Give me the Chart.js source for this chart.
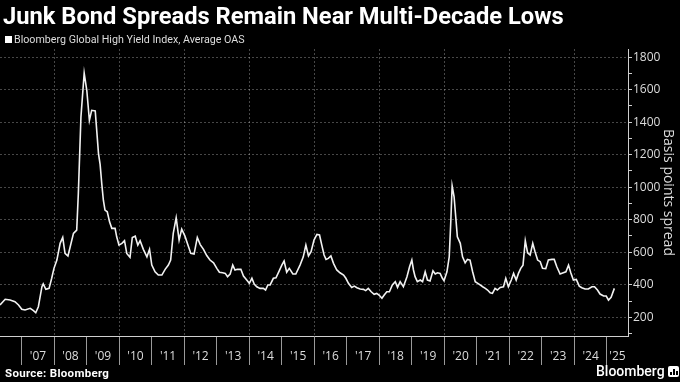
<!DOCTYPE html>
<html>
<head>
<meta charset="utf-8">
<script src="https://cdn.jsdelivr.net/npm/chart.js@4.4.1/dist/chart.umd.min.js"></script>
<style>
  html, body { margin: 0; padding: 0; background: #000; }
  #wrap { position: relative; width: 680px; height: 382px; overflow: hidden; font-family: 'Roboto', sans-serif; color: #fff; }
  #chart { position: absolute; left: 0; top: 0; }
  .title { position: absolute; left: 3px; top: 2px; font-size: 23.7px; font-weight: 700; white-space: nowrap; }
  .legend { position: absolute; left: 5px; top: 33px; font-size: 10.7px; color: #ddd; white-space: nowrap; }
  .legend .sw { display: inline-block; width: 7px; height: 7px; background: #fff; margin-right: 2px; vertical-align: 0px; }
  .source { position: absolute; left: 5px; top: 366px; font-size: 11.5px; font-weight: 700; white-space: nowrap; letter-spacing: 0.3px; }
  .logo { position: absolute; left: 596px; top: 363px; font-size: 14px; font-weight: 500; white-space: nowrap; }
  .logo .icon { display: inline-block; position: relative; width: 11px; height: 11px; background: #fff; border-radius: 2px; margin-left: 3px; vertical-align: -1px; }
  .logo .icon i { position: absolute; bottom: 2px; width: 2px; background: #000; }
</style>
</head>
<body>
<div id="wrap">
  <canvas id="chart" width="680" height="382"></canvas>
  <div class="title">Junk Bond Spreads Remain Near Multi-Decade Lows</div>
  <div class="legend"><span class="sw"></span>Bloomberg Global High Yield Index, Average OAS</div>
  <div class="source">Source: Bloomberg</div>
  <div class="logo">Bloomberg<span class="icon"><i style="left:2px;height:3px"></i><i style="left:5px;height:6px"></i><i style="left:8px;height:4px"></i></span></div>
</div>
<script>
// dates as decimal years, values in basis points
const years = [
  2006.33, 2006.49, 2006.64, 2006.79, 2006.90, 2007.00, 2007.10, 2007.26, 2007.36, 2007.43,
  2007.51, 2007.62, 2007.66, 2007.74, 2007.84, 2007.92, 2007.99, 2008.08, 2008.18, 2008.26,
  2008.33, 2008.42, 2008.49, 2008.59, 2008.69, 2008.74, 2008.82, 2008.92, 2009.00, 2009.08,
  2009.15, 2009.26, 2009.36, 2009.41, 2009.46, 2009.51, 2009.56, 2009.63, 2009.70, 2009.77,
  2009.87, 2009.92, 2009.99, 2010.08, 2010.16, 2010.23, 2010.33, 2010.40, 2010.49, 2010.57,
  2010.64, 2010.74, 2010.85, 2010.93, 2011.00, 2011.10, 2011.20, 2011.31, 2011.41, 2011.51,
  2011.58, 2011.66, 2011.75, 2011.84, 2011.92, 2012.02, 2012.13, 2012.20, 2012.30, 2012.40,
  2012.49, 2012.59, 2012.69, 2012.79, 2012.90, 2013.00, 2013.08, 2013.18, 2013.26, 2013.33,
  2013.41, 2013.49, 2013.56, 2013.63, 2013.74, 2013.82, 2013.92, 2014.00, 2014.08, 2014.15,
  2014.23, 2014.33, 2014.43, 2014.50, 2014.57, 2014.64, 2014.74, 2014.82, 2014.92, 2015.00,
  2015.07, 2015.15, 2015.23, 2015.34, 2015.43, 2015.56, 2015.66, 2015.74, 2015.82, 2015.90,
  2015.99, 2016.08, 2016.16, 2016.23, 2016.30, 2016.36, 2016.43, 2016.51, 2016.59, 2016.69,
  2016.79, 2016.90, 2016.97, 2017.05, 2017.15, 2017.23, 2017.31, 2017.41, 2017.51, 2017.58,
  2017.66, 2017.75, 2017.84, 2017.92, 2017.99, 2018.08, 2018.15, 2018.23, 2018.31, 2018.40,
  2018.49, 2018.56, 2018.64, 2018.74, 2018.85, 2018.93, 2019.00, 2019.05, 2019.10, 2019.17,
  2019.26, 2019.33, 2019.41, 2019.48, 2019.56, 2019.65, 2019.72, 2019.79, 2019.87, 2019.94,
  2019.99, 2020.08, 2020.15, 2020.20, 2020.24, 2020.30, 2020.35, 2020.40, 2020.49, 2020.56,
  2020.64, 2020.71, 2020.79, 2020.87, 2020.95, 2021.03, 2021.10, 2021.18, 2021.26, 2021.33,
  2021.41, 2021.48, 2021.56, 2021.63, 2021.72, 2021.82, 2021.89, 2021.97, 2022.06, 2022.13,
  2022.21, 2022.28, 2022.35, 2022.42, 2022.49, 2022.56, 2022.64, 2022.72, 2022.79, 2022.87,
  2022.95, 2023.02, 2023.12, 2023.20, 2023.31, 2023.38, 2023.46, 2023.56, 2023.66, 2023.74,
  2023.82, 2023.89, 2023.97, 2024.06, 2024.15, 2024.23, 2024.33, 2024.43, 2024.54, 2024.62,
  2024.71, 2024.79, 2024.90, 2024.98, 2025.05, 2025.13, 2025.23
];
const oas = [
  276, 311, 306, 296, 276, 249, 245, 255, 241, 228,
  265, 388, 405, 372, 378, 440, 501, 552, 655, 691,
  593, 577, 634, 716, 736, 961, 1432, 1702, 1596, 1411,
  1473, 1469, 1207, 1140, 1023, 920, 859, 849, 787, 747,
  747, 695, 644, 655, 671, 593, 569, 691, 699, 644,
  671, 618, 572, 618, 521, 480, 460, 460, 495, 521,
  552, 716, 812, 675, 742, 699, 634, 593, 589, 691,
  647, 618, 580, 552, 535, 501, 477, 474, 470, 450,
  466, 521, 491, 495, 495, 454, 429, 409, 440, 405,
  388, 378, 378, 368, 399, 399, 440, 443, 486, 521,
  546, 477, 501, 466, 466, 521, 572, 644, 577, 603,
  675, 710, 706, 644, 583, 556, 562, 577, 532, 491,
  474, 460, 440, 409, 384, 392, 382, 374, 372, 364,
  378, 357, 341, 347, 337, 317, 337, 357, 357, 399,
  419, 384, 419, 388, 450, 511, 552, 491, 450, 419,
  429, 419, 480, 429, 423, 486, 466, 474, 470, 440,
  425, 480, 572, 797, 1008, 941, 818, 695, 655, 572,
  535, 556, 552, 480, 419, 409, 399, 388, 378, 368,
  351, 347, 378, 368, 384, 388, 440, 388, 429, 470,
  429, 470, 501, 521, 671, 597, 583, 655, 603, 552,
  542, 501, 499, 552, 556, 556, 511, 466, 474, 480,
  521, 474, 429, 433, 392, 382, 374, 374, 388, 388,
  368, 343, 331, 331, 306, 323, 378
];

// axis ticks
const yearTicks = [2007, 2008, 2009, 2010, 2011, 2012, 2013, 2014, 2015, 2016, 2017, 2018, 2019, 2020, 2021, 2022, 2023, 2024, 2025];
const yearLabels = ["'07", "'08", "'09", "'10", "'11", "'12", "'13", "'14", "'15", "'16", "'17", "'18", "'19", "'20", "'21", "'22", "'23", "'24", "'25"];
const yTickValues = [200, 400, 600, 800, 1000, 1200, 1400, 1600, 1800];

const xMin = 2006.33;
const xMax = 2025.65;
const yMin = 85;
const yMax = 1850;

const gridColor = 'rgba(255,255,255,0.28)';
const axisColor = '#cfcfcf';
const textColor = '#dcdcdc';

// label sits in the middle of each year (the last one in what is left of 2025)
const labelPos = yearTicks.map((y, i) => i < yearTicks.length - 1 ? y + 0.5 : (y + xMax) / 2);
const labelAt = new Map(labelPos.map((p, i) => [p, yearLabels[i]]));

const isYearEdge = (v) => Number.isInteger(v);

const points = years.map((x, i) => ({ x: x, y: oas[i] }));

const ctx = document.getElementById('chart').getContext('2d');
new Chart(ctx, {
  type: 'line',
  data: {
    datasets: [{
      label: 'Bloomberg Global High Yield Index, Average OAS',
      data: points,
      borderColor: '#f2f2f2',
      borderWidth: 1.6,
      pointRadius: 0,
      tension: 0,
      fill: false
    }]
  },
  options: {
    responsive: false,
    animation: false,
    devicePixelRatio: 1,
    layout: { padding: { top: 49, left: 0, right: 0, bottom: 0 } },
    plugins: {
      legend: { display: false },
      tooltip: { enabled: false },
      title: { display: false }
    },
    scales: {
      x: {
        type: 'linear',
        min: xMin,
        max: xMax,
        position: 'bottom',
        afterBuildTicks: (axis) => {
          const all = yearTicks.concat(labelPos).sort((a, b) => a - b);
          axis.ticks = all.map(v => ({ value: v }));
        },
        afterFit: (axis) => { axis.height = 46; },
        grid: {
          color: (c) => (c.tick && isYearEdge(c.tick.value) && c.tick.value % 2 === 0) ? gridColor : 'transparent',
          tickColor: (c) => (c.tick && isYearEdge(c.tick.value)) ? '#9a9a9a' : 'transparent',
          tickLength: 29,
          lineWidth: 1,
          drawTicks: true
        },
        border: { display: true, color: axisColor, width: 1, dash: [2, 2] },
        ticks: {
          autoSkip: false,
          maxRotation: 0,
          minRotation: 0,
          padding: -16,
          color: textColor,
          font: { family: 'Open Sans', size: 12 },
          callback: (v) => labelAt.has(v) ? labelAt.get(v) : ''
        }
      },
      y: {
        type: 'linear',
        position: 'right',
        min: yMin,
        max: yMax,
        afterBuildTicks: (axis) => {
          // minor marks every 100, labels on the 200s
          const t = [];
          for (let v = 100; v <= 1800; v += 100) t.push({ value: v });
          axis.ticks = t;
        },
        afterFit: (axis) => { axis.width = 52; },
        grid: {
          color: (c) => (c.tick && yTickValues.includes(c.tick.value)) ? gridColor : 'transparent',
          tickColor: axisColor,
          tickLength: 4,
          lineWidth: 1
        },
        border: { display: true, color: axisColor, width: 1, dash: [2, 2] },
        ticks: {
          autoSkip: false,
          padding: 1,
          color: textColor,
          font: { family: 'Open Sans', size: 12 },
          callback: (v) => yTickValues.includes(v) ? String(v) : ''
        },
        title: {
          display: true,
          text: 'Basis points spread',
          color: textColor,
          font: { family: 'Open Sans', size: 14 },
          padding: { top: 4, bottom: 0 }
        }
      }
    }
  }
});
</script>
</body>
</html>
